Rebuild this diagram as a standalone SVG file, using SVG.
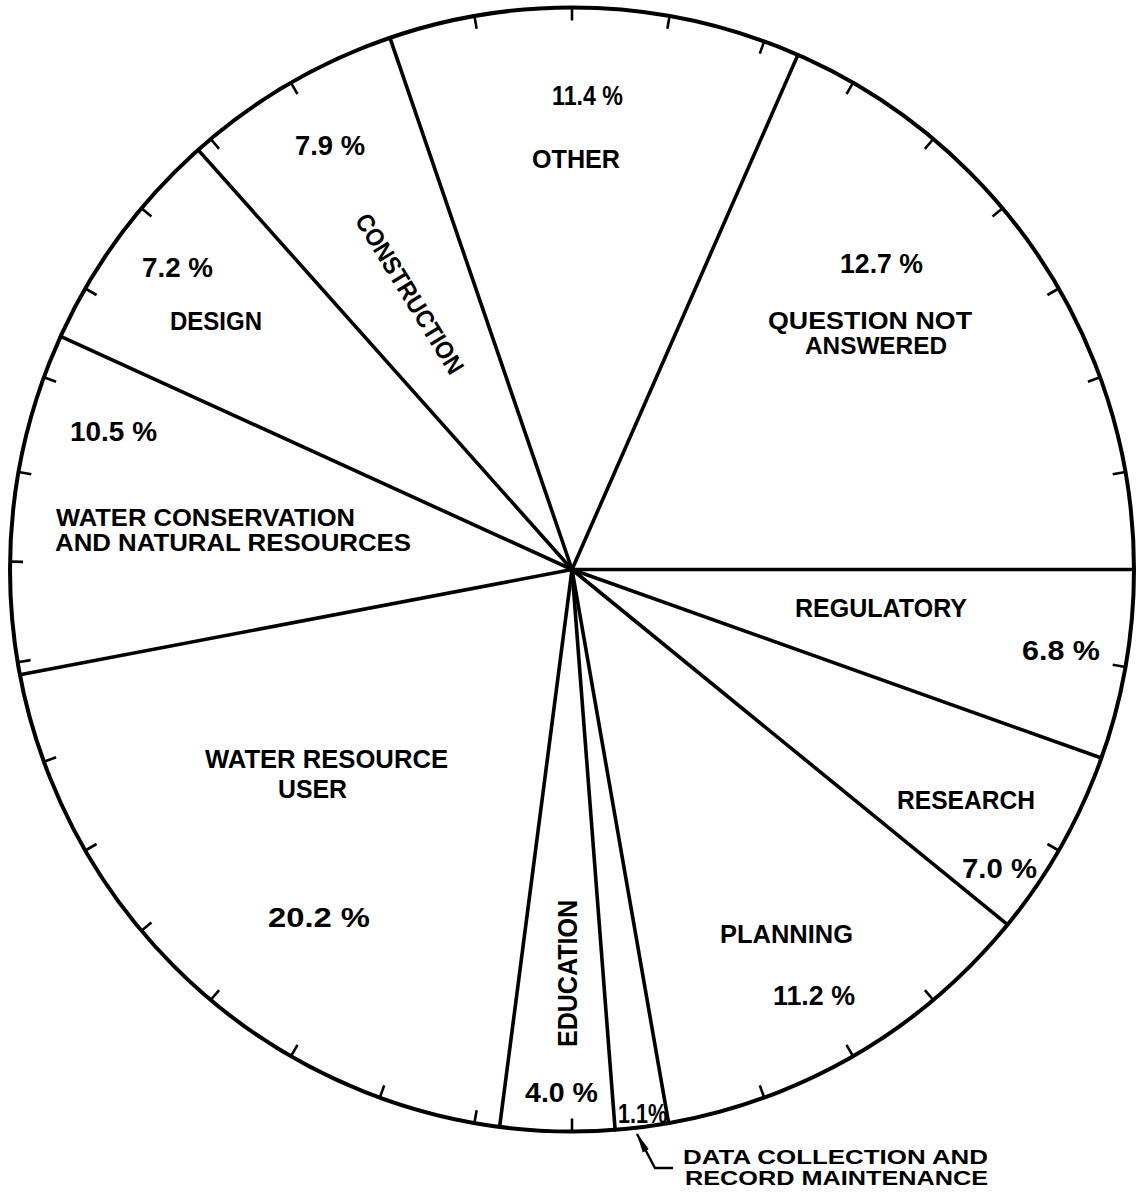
<svg xmlns="http://www.w3.org/2000/svg" xmlns:xlink="http://www.w3.org/1999/xlink" width="1142" height="1198" viewBox="0 0 1142 1198">
<style>
.rim{fill:none;stroke:#000;stroke-width:4}
.div{stroke:#000;stroke-width:3.6;stroke-linecap:round}
.tick{stroke:#000;stroke-width:2.6}
text{font-family:"Liberation Sans",Arial,sans-serif;font-weight:bold;fill:#000}
.lb{font-size:25px}
.l2{font-size:23px}
.pc{font-size:27px}
.m{text-anchor:middle}
.lead{fill:none;stroke:#000;stroke-width:2.4}
</style>
<defs>
<line id="tk" class="tick" x1="572" y1="7.5" x2="572" y2="20.5"/>
<line id="dv" class="div" x1="572" y1="569.5" x2="572" y2="7.5"/>
<marker id="ah" viewBox="0 0 20 8" refX="19" refY="4" markerWidth="20" markerHeight="8" markerUnits="userSpaceOnUse" orient="auto">
<path d="M0,0.5 L20,4 L0,7.5 Z" fill="#000"/>
</marker>
</defs>
<g id="pie">
<circle class="rim" cx="572" cy="569.5" r="562"/>
</g>
<g id="ticks">
<use xlink:href="#tk" href="#tk"/>
<use xlink:href="#tk" href="#tk" transform="rotate(10 572 569.5)"/>
<use xlink:href="#tk" href="#tk" transform="rotate(20 572 569.5)"/>
<use xlink:href="#tk" href="#tk" transform="rotate(30 572 569.5)"/>
<use xlink:href="#tk" href="#tk" transform="rotate(40 572 569.5)"/>
<use xlink:href="#tk" href="#tk" transform="rotate(50 572 569.5)"/>
<use xlink:href="#tk" href="#tk" transform="rotate(60 572 569.5)"/>
<use xlink:href="#tk" href="#tk" transform="rotate(70 572 569.5)"/>
<use xlink:href="#tk" href="#tk" transform="rotate(80 572 569.5)"/>
<use xlink:href="#tk" href="#tk" transform="rotate(100 572 569.5)"/>
<use xlink:href="#tk" href="#tk" transform="rotate(120 572 569.5)"/>
<use xlink:href="#tk" href="#tk" transform="rotate(140 572 569.5)"/>
<use xlink:href="#tk" href="#tk" transform="rotate(150 572 569.5)"/>
<use xlink:href="#tk" href="#tk" transform="rotate(160 572 569.5)"/>
<use xlink:href="#tk" href="#tk" transform="rotate(180 572 569.5)"/>
<use xlink:href="#tk" href="#tk" transform="rotate(190 572 569.5)"/>
<use xlink:href="#tk" href="#tk" transform="rotate(200 572 569.5)"/>
<use xlink:href="#tk" href="#tk" transform="rotate(210 572 569.5)"/>
<use xlink:href="#tk" href="#tk" transform="rotate(220 572 569.5)"/>
<use xlink:href="#tk" href="#tk" transform="rotate(230 572 569.5)"/>
<use xlink:href="#tk" href="#tk" transform="rotate(240 572 569.5)"/>
<use xlink:href="#tk" href="#tk" transform="rotate(250 572 569.5)"/>
<use xlink:href="#tk" href="#tk" transform="rotate(260.5 572 569.5)"/>
<use xlink:href="#tk" href="#tk" transform="rotate(270.8 572 569.5)"/>
<use xlink:href="#tk" href="#tk" transform="rotate(280 572 569.5)"/>
<use xlink:href="#tk" href="#tk" transform="rotate(290 572 569.5)"/>
<use xlink:href="#tk" href="#tk" transform="rotate(300 572 569.5)"/>
<use xlink:href="#tk" href="#tk" transform="rotate(310 572 569.5)"/>
<use xlink:href="#tk" href="#tk" transform="rotate(320 572 569.5)"/>
<use xlink:href="#tk" href="#tk" transform="rotate(330 572 569.5)"/>
<use xlink:href="#tk" href="#tk" transform="rotate(350 572 569.5)"/>
</g>
<g id="connectors">
<use xlink:href="#dv" href="#dv" transform="rotate(90 572 569.5)"/>
<use xlink:href="#dv" href="#dv" transform="rotate(23.7 572 569.5)"/>
<use xlink:href="#dv" href="#dv" transform="rotate(341.1 572 569.5)"/>
<use xlink:href="#dv" href="#dv" transform="rotate(318.3 572 569.5)"/>
<use xlink:href="#dv" href="#dv" transform="rotate(294.5 572 569.5)"/>
<use xlink:href="#dv" href="#dv" transform="rotate(259.2 572 569.5)"/>
<use xlink:href="#dv" href="#dv" transform="rotate(187.4 572 569.5)"/>
<use xlink:href="#dv" href="#dv" transform="rotate(175.6 572 569.5)"/>
<use xlink:href="#dv" href="#dv" transform="rotate(170.1 572 569.5)"/>
<use xlink:href="#dv" href="#dv" transform="rotate(129.2 572 569.5)"/>
<use xlink:href="#dv" href="#dv" transform="rotate(109.6 572 569.5)"/>
<path class="lead" d="M673,1168 L655,1168 L637,1134" marker-end="url(#ah)"/>
</g>
<g id="other">
<text class="pc m" x="587.5" y="105" textLength="71" lengthAdjust="spacingAndGlyphs">11.4 %</text>
<text class="lb m" x="576" y="168" textLength="88" lengthAdjust="spacingAndGlyphs">OTHER</text>
</g>
<g id="construction">
<text class="pc m" x="330" y="155" textLength="70" lengthAdjust="spacingAndGlyphs">7.9 %</text>
<text class="lb m" transform="translate(402.3 298.2) rotate(58.4)" x="0" y="0" textLength="183" lengthAdjust="spacingAndGlyphs">CONSTRUCTION</text>
</g>
<g id="design">
<text class="pc m" x="177.5" y="277" textLength="71" lengthAdjust="spacingAndGlyphs">7.2 %</text>
<text class="lb m" x="216" y="330" textLength="92" lengthAdjust="spacingAndGlyphs">DESIGN</text>
</g>
<g id="question-not-answered">
<text class="pc m" x="881.5" y="273" textLength="83" lengthAdjust="spacingAndGlyphs">12.7 %</text>
<text class="l2 m" x="870" y="329" textLength="204" lengthAdjust="spacingAndGlyphs">QUESTION  NOT</text>
<text class="l2 m" x="876" y="354" textLength="142" lengthAdjust="spacingAndGlyphs">ANSWERED</text>
</g>
<g id="water-conservation">
<text class="pc m" x="113.5" y="441" textLength="87" lengthAdjust="spacingAndGlyphs">10.5 %</text>
<text class="l2" x="56" y="526" textLength="299" lengthAdjust="spacingAndGlyphs">WATER  CONSERVATION</text>
<text class="l2" x="55" y="551" textLength="356" lengthAdjust="spacingAndGlyphs">AND NATURAL RESOURCES</text>
</g>
<g id="regulatory">
<text class="lb m" x="881" y="617" textLength="172" lengthAdjust="spacingAndGlyphs">REGULATORY</text>
<text class="pc m" x="1061" y="660" textLength="78" lengthAdjust="spacingAndGlyphs">6.8 %</text>
</g>
<g id="research">
<text class="lb m" x="966" y="809" textLength="138" lengthAdjust="spacingAndGlyphs">RESEARCH</text>
<text class="pc m" x="999.5" y="878" textLength="75" lengthAdjust="spacingAndGlyphs">7.0 %</text>
</g>
<g id="planning">
<text class="lb m" x="786.5" y="943" textLength="133" lengthAdjust="spacingAndGlyphs">PLANNING</text>
<text class="pc m" x="814" y="1005" textLength="82" lengthAdjust="spacingAndGlyphs">11.2 %</text>
</g>
<g id="water-resource-user">
<text class="lb m" x="326.5" y="768" textLength="243" lengthAdjust="spacingAndGlyphs">WATER  RESOURCE</text>
<text class="lb m" x="312.5" y="798" textLength="69" lengthAdjust="spacingAndGlyphs">USER</text>
<text class="pc m" x="319" y="927" textLength="102" lengthAdjust="spacingAndGlyphs">20.2  %</text>
</g>
<g id="education">
<text class="lb m" style="font-size:28px" transform="translate(577 973.5) rotate(-90)" x="0" y="0" textLength="147" lengthAdjust="spacingAndGlyphs">EDUCATION</text>
<text class="pc m" x="561.5" y="1102" textLength="73" lengthAdjust="spacingAndGlyphs">4.0 %</text>
</g>
<g id="data-collection">
<text class="pc m" x="642.5" y="1123" textLength="49" lengthAdjust="spacingAndGlyphs">1.1%</text>
<text class="lb" style="font-size:21px" x="683" y="1164" textLength="305" lengthAdjust="spacingAndGlyphs">DATA  COLLECTION AND</text>
<text class="lb" style="font-size:21px" x="685" y="1185" textLength="303" lengthAdjust="spacingAndGlyphs">RECORD MAINTENANCE</text>
</g>
</svg>
